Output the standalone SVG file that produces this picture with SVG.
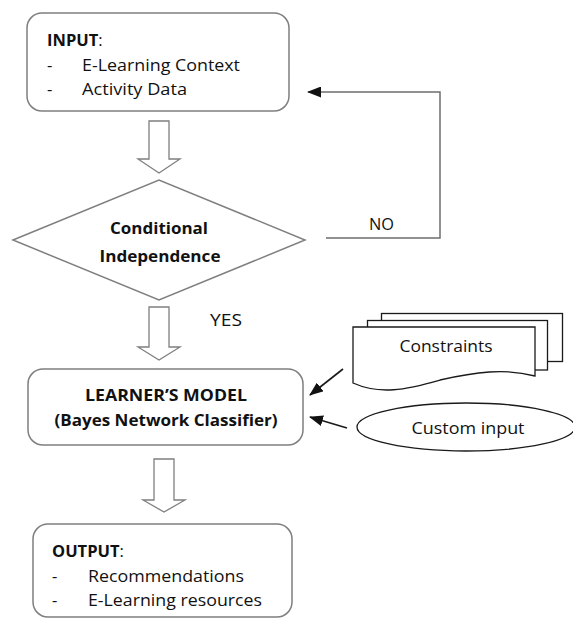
<svg xmlns="http://www.w3.org/2000/svg" width="573" height="622" viewBox="0 0 573 622">
  <style>
    .box { fill: #ffffff; stroke: #7f7f7f; stroke-width: 1.5; }
    .hollow { fill: #ffffff; stroke: #7f7f7f; stroke-width: 1.3; stroke-linejoin: miter; }
    .doc { fill: #ffffff; stroke: #1a1a1a; stroke-width: 1.3; }
    .link { fill: none; stroke: #6e6e6e; stroke-width: 1.5; }
    .feed { fill: none; stroke: #1a1a1a; stroke-width: 1.6; }
    text { font-family: "Open Sans", "Liberation Sans", sans-serif; font-size: 16.5px; fill: #111111; }
    .b { font-weight: bold; }
    .mid { text-anchor: middle; }
  </style>
  <defs>
    <marker id="head" markerWidth="14" markerHeight="11" refX="13" refY="5.5" orient="auto" markerUnits="userSpaceOnUse">
      <path d="M0,0 L14,5.5 L0,11 Z" fill="#111111"/>
    </marker>
  </defs>

  <rect width="573" height="622" fill="#ffffff"/>

  <!-- input node -->
  <g id="input">
    <rect class="box" x="27" y="13" width="262" height="98" rx="15" ry="15"/>
    <text x="47" y="46"><tspan class="b">INPUT</tspan>:</text>
    <text x="47" y="71">-</text>
    <text x="82" y="71" textLength="158" lengthAdjust="spacingAndGlyphs">E-Learning Context</text>
    <text x="47" y="95">-</text>
    <text x="82" y="95" textLength="105" lengthAdjust="spacingAndGlyphs">Activity Data</text>
  </g>

  <!-- decision node -->
  <g id="decision">
    <polygon class="box" points="13,240 159,180 305,240 159,300"/>
    <text class="b mid" x="159" y="234" textLength="98" lengthAdjust="spacingAndGlyphs">Conditional</text>
    <text class="b mid" x="160" y="262" textLength="121" lengthAdjust="spacingAndGlyphs">Independence</text>
  </g>

  <!-- learner model node -->
  <g id="model">
    <rect class="box" x="28" y="369" width="275" height="76" rx="15" ry="15"/>
    <text class="b mid" x="166" y="401" textLength="162" lengthAdjust="spacingAndGlyphs">LEARNER’S MODEL</text>
    <text class="b mid" x="166" y="426" textLength="223" lengthAdjust="spacingAndGlyphs">(Bayes Network Classifier)</text>
  </g>

  <!-- output node -->
  <g id="output">
    <rect class="box" x="33" y="524" width="259" height="93" rx="15" ry="15"/>
    <text x="52" y="557"><tspan class="b">OUTPUT</tspan>:</text>
    <text x="52" y="582">-</text>
    <text x="88" y="582" textLength="156" lengthAdjust="spacingAndGlyphs">Recommendations</text>
    <text x="52" y="606">-</text>
    <text x="88" y="606" textLength="174" lengthAdjust="spacingAndGlyphs">E-Learning resources</text>
  </g>

  <!-- stacked constraint documents -->
  <g id="constraints">
    <rect class="doc" x="381.5" y="313.5" width="181" height="48"/>
    <rect class="doc" x="367.5" y="320.5" width="180" height="49.5"/>
    <path class="doc" d="M353,327 H535 V376 C505,368 475,372 440,380 C405,390 380,395 353,383 Z"/>
    <text class="mid" x="446" y="352" textLength="93" lengthAdjust="spacingAndGlyphs">Constraints</text>
  </g>

  <!-- custom input terminal -->
  <g id="custom">
    <ellipse class="doc" cx="466" cy="427" rx="109" ry="24"/>
    <text class="mid" x="468" y="434" textLength="113" lengthAdjust="spacingAndGlyphs">Custom input</text>
  </g>

  <!-- connectors -->
  <g id="connectors">
    <polygon class="hollow" points="149,121 169,121 169,159 180,159 159,173 138,159 149,159"/>
    <polygon class="hollow" points="149,307 169,307 169,347 180,347 159,360 138,347 149,347"/>
    <polygon class="hollow" points="154,459 174,459 174,500 185,500 164,512 143,500 154,500"/>
    <polyline class="link" points="326,238 440,238 440,92 308,92" marker-end="url(#head)"/>
    <text x="369" y="230" textLength="25" lengthAdjust="spacingAndGlyphs">NO</text>
    <text x="210" y="326" textLength="32" lengthAdjust="spacingAndGlyphs">YES</text>
    <line class="feed" x1="343" y1="369" x2="310" y2="395" marker-end="url(#head)"/>
    <line class="feed" x1="347" y1="428" x2="310" y2="417" marker-end="url(#head)"/>
  </g>
</svg>
